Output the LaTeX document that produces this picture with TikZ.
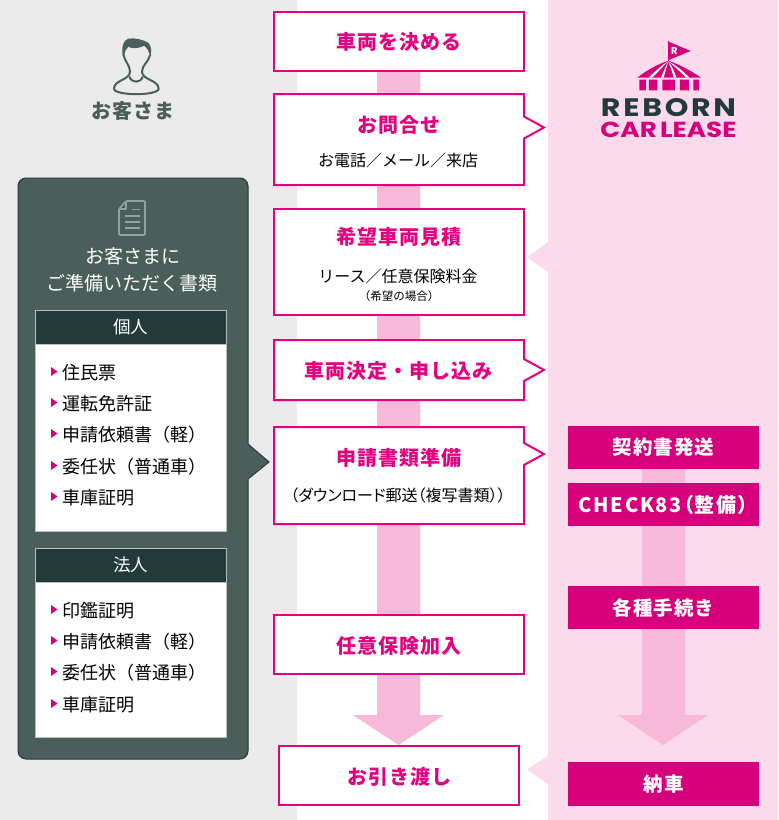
\documentclass[tikz,border=0pt]{standalone}
\usepackage{fontspec}
\setmainfont{Noto Sans CJK JP}
\newfontfamily\jpfont{Noto Sans CJK JP}
\newfontfamily\jpt[LetterSpace=5]{Noto Sans CJK JP}
\newfontfamily\jpw[LetterSpace=5.5]{Noto Sans CJK JP}
\newfontfamily\jpwp[LetterSpace=8,RawFeature=+palt]{Noto Sans CJK JP}
\newfontfamily\jpp[RawFeature=+palt]{Noto Sans CJK JP}
\newfontfamily\logofont{Poppins}
\newfontfamily\logowide[LetterSpace=9]{Poppins}
\definecolor{flowpink}{HTML}{E4007F}
\definecolor{solidpink}{HTML}{D6007C}
\definecolor{bandpink}{HTML}{FBDAEC}
\definecolor{arrowpink}{HTML}{F8B9D8}
\definecolor{bandgray}{HTML}{EBEBEB}
\definecolor{panel}{HTML}{4A5E5A}
\definecolor{headdark}{HTML}{223A3A}
\definecolor{iconline}{HTML}{95A19E}
\definecolor{boxline}{HTML}{B5C0BD}
\tikzset{
  x=1pt,y=-1pt,
  flowline/.style={draw=flowpink,line width=2pt,fill=white,line join=miter},
  title/.style={font=\jpt\bfseries\fontsize{20}{22}\selectfont,text=flowpink,inner sep=0pt},
  sub/.style={font=\jpfont\fontsize{16}{20}\selectfont,text=black,inner sep=0pt},
  solidbox/.style={fill=solidpink,draw=none,minimum width=191pt,inner sep=0pt,text=white,font=\jpw\bfseries\fontsize{19.5}{22}\selectfont},
  listitem/.style={font=\jpfont\fontsize{18}{22}\selectfont,text=black,anchor=west,inner sep=0pt},
  head/.style={fill=headdark,draw=boxline,line width=1pt,minimum width=191pt,minimum height=34pt,inner sep=0pt,text=white,font=\jpfont\fontsize{17.5}{20}\selectfont},
  whitebody/.style={fill=white,draw=boxline,line width=1pt},
  bul/.style={fill=solidpink,draw=none},
}
\begin{document}
\begin{tikzpicture}
\useasboundingbox (0,0) rectangle (779,820);
% bands
\fill[white] (0,0) rectangle (779,820);
\fill[bandgray] (0,0) rectangle (297,820);
\fill[bandpink] (548,0) rectangle (778,820);
% triangles from the pink band
\fill[bandpink] (548,242) -- (527,257) -- (548,272) -- cycle;
\fill[bandpink] (548,756) -- (527,769.5) -- (548,784) -- cycle;
% big arrows
\fill[arrowpink] (377,60) -- (420,60) -- (420,715) -- (444,715) -- (398.5,745) -- (353,715) -- (377,715) -- cycle;
\fill[arrowpink] (642,460) -- (685,460) -- (685,715) -- (708,715) -- (663,745) -- (618,715) -- (642,715) -- cycle;
% flow boxes
\path[flowline] (274,12) rectangle (524,71);
\path[flowline] (274,94) -- (524,94) -- (524,116.5) -- (544,127.5) -- (524,138.5) -- (524,185) -- (274,185) -- cycle;
\path[flowline] (274,209) rectangle (524,315);
\path[flowline] (274,340) -- (524,340) -- (524,359) -- (544,370) -- (524,381) -- (524,400) -- (274,400) -- cycle;
\path[flowline] (274,427) -- (524,427) -- (524,443) -- (544,454) -- (524,465) -- (524,524) -- (274,524) -- cycle;
\path[flowline] (274,615) rectangle (524,674);
\path[flowline] (279,746) rectangle (519,805);
\node[title] (t1) at (398.5,41.5) {車両を決める};
\node[title] (t2) at (398.5,124.5) {お問合せ};
\node[sub] (s2) at (398,160) {お電話／メール／来店};
\node[title] (t3) at (398.5,237) {希望車両見積};
\node[sub] (s3) at (398,276) {リース／任意保険料金};
\node[sub,font=\jpfont\fontsize{11.5}{13}\selectfont] (s3b) at (399,296.5) {（希望の場合）};
\node[title] (t4) at (398.5,371) {車両決定・申し込み};
\node[title] (t5) at (398.5,458) {申請書類準備};
\node[sub,font=\jpp\fontsize{16}{20}\selectfont] (s5) at (398,495) {（ダウンロード郵送（複写書類））};
\node[title] (t6) at (398.5,646) {任意保険加入};
\node[title] (t7) at (399,777) {お引き渡し};
% right column
\node[solidbox,minimum height=43pt] (r1) at (663.5,447.5) {契約書発送};
\node[solidbox,minimum height=43pt,font=\jpwp\bfseries\fontsize{20}{22}\selectfont] (r2) at (663.5,504.5) {CHECK83（整備）};
\node[solidbox,minimum height=43pt] (r3) at (663.5,607.5) {各種手続き};
\node[solidbox,minimum height=44pt] (r4) at (663.5,784) {納車};
% customer icon
\begin{scope}[shift={(80,30)},x=0.3333pt,y=-0.3333pt]
  \draw[panel,line width=2pt,fill=none,line join=round]
    (131,75) .. controls (134,95) and (150,105) .. (150,125)
    .. controls (150,150) and (102,150) .. (102,176)
    .. controls (102,198) and (236,198) .. (236,176)
    .. controls (236,150) and (186,150) .. (186,125)
    .. controls (186,105) and (207,95) .. (210,75);
  \draw[panel,line width=2pt] (148,140) .. controls (155,160) and (182,160) .. (188,140);
  \fill[panel] (128,78) .. controls (124,50) and (130,30) .. (145,26)
    .. controls (165,22) and (190,30) .. (205,38)
    .. controls (215,50) and (216,64) .. (211,80)
    .. controls (207,62) and (200,52) .. (192,47)
    .. controls (172,58) and (152,55) .. (145,50)
    .. controls (138,56) and (134,64) .. (133,80) -- cycle;
\end{scope}
\node[inner sep=0pt,text=panel,font=\jpt\bfseries\fontsize{20}{22}\selectfont] (cust) at (133,111) {お客さま};
% panel
\path[fill=panel,draw=headdark,line width=1pt] [rounded corners=8pt] (18,470) -- (18,178) -- (248,178) -- (248,300) [sharp corners] -- (248,444) -- (269,462) -- (248,479) -- (248,600) [rounded corners=8pt] -- (248,759) -- (18,759) -- cycle;
% doc icon
\draw[iconline,line width=1.6pt,line join=round,rounded corners=1pt] (126,201) -- (145,201) -- (145,235) -- (119,235) -- (119,209) -- cycle;
\draw[iconline,line width=1.4pt,line join=round] (119,209) -- (126,209) -- (126,201);
\draw[iconline,line width=1.2pt] (132,209.5) -- (140,209.5) (125,216) -- (140,216) (125,222) -- (140,222) (125,228) -- (140,228);
\node[inner sep=0pt,text=white,font=\jpfont\fontsize{19}{22}\selectfont] (pt1) at (133,256) {お客さまに};
\node[inner sep=0pt,text=white,font=\jpfont\fontsize{19}{22}\selectfont] (pt2) at (132,283) {ご準備いただく書類};
% individual
\path[whitebody] (35.5,344) rectangle (226,531);
\node[head] (h1) at (130.5,327) {\raisebox{-1pt}{個人}};
\foreach \n/\yy/\tx in {a/373/住民票,b/404/運転免許証,c/435/申請依頼書（軽）,d/467/委任状（普通車）,e/498/車庫証明}{
  \fill[bul] (51,\yy-6) -- (57.5,\yy-1.5) -- (51,\yy+3) -- cycle;
  \node[listitem] (i\n) at (62,\yy) {\tx};
}
% corporate
\path[whitebody] (35.5,582) rectangle (226,737);
\node[head] (h2) at (130.5,565) {\raisebox{-0.5pt}{法人}};
\foreach \n/\yy/\tx in {a/611/印鑑証明,b/642/申請依頼書（軽）,c/673/委任状（普通車）,d/705/車庫証明}{
  \fill[bul] (51,\yy-6) -- (57.5,\yy-1.5) -- (51,\yy+3) -- cycle;
  \node[listitem] (j\n) at (62,\yy) {\tx};
}
% logo
\begin{scope}[shift={(590,30)},x=0.3333pt,y=-0.3333pt]
  \draw[solidpink,line width=1.2pt] (236,33) -- (236,93);
  \fill[solidpink] (236,35) -- (302,63) -- (236,90) -- cycle;
  \fill[solidpink] (235,92) .. controls (210,100) and (170,120) .. (142,143) -- (333,143) .. controls (300,120) and (260,100) .. (235,92) -- cycle;
  \fill[white] (235,94) .. controls (215,105) and (195,125) .. (176,143) -- (187,143) .. controls (205,125) and (222,105) .. (235,94) -- cycle;
  \fill[white] (235,94) .. controls (228,108) and (220,125) .. (213,143) -- (221,143) .. controls (226,125) and (231,108) .. (235,94) -- cycle;
  \fill[white] (235,94) .. controls (240,108) and (247,125) .. (251,143) -- (259,143) .. controls (254,125) and (245,108) .. (235,94) -- cycle;
  \fill[white] (235,94) .. controls (250,105) and (270,125) .. (288,143) -- (299,143) .. controls (280,125) and (258,105) .. (235,94) -- cycle;
  \fill[solidpink] (148,149) rectangle (168,181) (177,149) rectangle (202,181) (217,149) rectangle (255,181) (270,149) rectangle (297,181) (310,149) rectangle (327,181);
\end{scope}
\node[inner sep=0pt,text=white,font=\logofont\bfseries\fontsize{10}{10}\selectfont] (flagr) at (674.5,50.5) {R};
\node[inner sep=0pt] (reborn) at (668.5,108) {\resizebox{135pt}{18pt}{\color{headdark}\logowide\bfseries REBORN}};
\node[inner sep=0pt] (carlease) at (668.5,129.5) {\resizebox{136pt}{15.5pt}{\color{solidpink}\logofont\bfseries CAR\hspace{.12em}LEASE}};
\end{tikzpicture}
\end{document}
